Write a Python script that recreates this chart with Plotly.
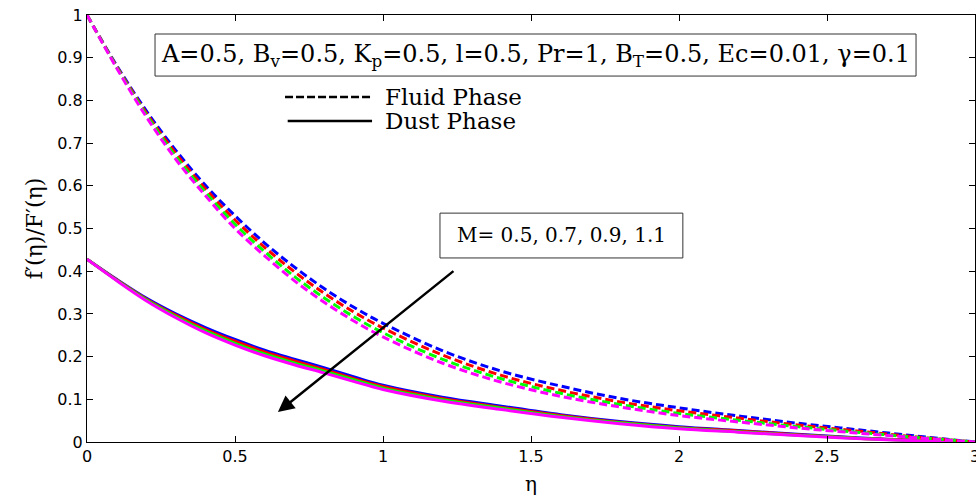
import plotly.graph_objects as go

# similarity coordinate
eta = [0.0, 0.1, 0.2, 0.3, 0.4, 0.5, 0.6, 0.7, 0.8, 0.9, 1.0,
       1.2, 1.4, 1.6, 1.8, 2.0, 2.2, 2.4, 2.6, 2.8, 3.0]

# magnetic parameter values, one colour each
m_values = [0.5, 0.7, 0.9, 1.1]
colors = ["#0000ff", "#ff0000", "#00ff00", "#ff00ff"]

# fluid phase velocity f'(eta)
fluid = {
    0.5: [1.000, 0.882, 0.776, 0.683, 0.601, 0.530, 0.466, 0.410, 0.360, 0.316, 0.278,
          0.214, 0.166, 0.131, 0.102, 0.080, 0.061, 0.044, 0.029, 0.014, 0.000],
    0.7: [1.000, 0.880, 0.771, 0.676, 0.593, 0.520, 0.456, 0.399, 0.349, 0.305, 0.267,
          0.204, 0.156, 0.121, 0.094, 0.073, 0.056, 0.040, 0.026, 0.012, 0.000],
    0.9: [1.000, 0.878, 0.767, 0.669, 0.585, 0.510, 0.446, 0.388, 0.338, 0.294, 0.256,
          0.194, 0.148, 0.114, 0.088, 0.067, 0.051, 0.036, 0.023, 0.011, 0.000],
    1.1: [1.000, 0.876, 0.762, 0.662, 0.577, 0.500, 0.436, 0.378, 0.328, 0.284, 0.246,
          0.185, 0.140, 0.107, 0.082, 0.062, 0.047, 0.033, 0.021, 0.010, 0.000],
}

# dust phase velocity F'(eta)
dust = {
    0.5: [0.428, 0.381, 0.337, 0.300, 0.268, 0.240, 0.215, 0.194, 0.174, 0.153, 0.133,
          0.105, 0.084, 0.064, 0.048, 0.036, 0.027, 0.018, 0.010, 0.004, 0.000],
    0.7: [0.428, 0.380, 0.335, 0.297, 0.264, 0.236, 0.211, 0.190, 0.170, 0.149, 0.130,
          0.102, 0.081, 0.062, 0.046, 0.034, 0.026, 0.017, 0.009, 0.004, 0.000],
    0.9: [0.428, 0.379, 0.333, 0.294, 0.260, 0.231, 0.206, 0.185, 0.166, 0.146, 0.126,
          0.099, 0.079, 0.060, 0.045, 0.033, 0.024, 0.016, 0.009, 0.003, 0.000],
    1.1: [0.428, 0.378, 0.331, 0.291, 0.256, 0.227, 0.202, 0.181, 0.162, 0.142, 0.123,
          0.096, 0.076, 0.058, 0.043, 0.031, 0.023, 0.015, 0.008, 0.003, 0.000],
}

x_ticks = [0, 0.5, 1, 1.5, 2, 2.5, 3]
x_tick_text = ["0", "0.5", "1", "1.5", "2", "2.5", "3"]
y_ticks = [0, 0.1, 0.2, 0.3, 0.4, 0.5, 0.6, 0.7, 0.8, 0.9, 1]
y_tick_text = ["0", "0.1", "0.2", "0.3", "0.4", "0.5", "0.6", "0.7", "0.8", "0.9", "1"]

params_text = ("A=0.5, B<sub>v</sub>=0.5, K<sub>p</sub>=0.5, l=0.5, Pr=1, "
               "B<sub>T</sub>=0.5, Ec=0.01, \u03b3=0.1")
m_text = "M= 0.5, 0.7, 0.9, 1.1"

serif = "DejaVu Serif, Liberation Serif, serif"
sans = "DejaVu Sans, Liberation Sans, sans-serif"

fig = go.Figure()

for m, c in zip(m_values, colors):
    fig.add_trace(go.Scatter(x=eta, y=dust[m], mode="lines", line=dict(color=c, width=3),
                             line_shape="spline", showlegend=False, hoverinfo="skip"))
for m, c in zip(m_values, colors):
    fig.add_trace(go.Scatter(x=eta, y=fluid[m], mode="lines",
                             line=dict(color=c, width=3, dash="8px,4px"),
                             line_shape="spline", showlegend=False, hoverinfo="skip"))

shapes = [
    # parameter box
    dict(type="rect", xref="paper", yref="paper", x0=0.0766, x1=0.9336, y0=0.857, y1=0.9555,
         line=dict(color="#333333", width=1)),
    # M box
    dict(type="rect", xref="paper", yref="paper", x0=0.3975, x1=0.671, y0=0.431, y1=0.536,
         line=dict(color="#333333", width=1)),
    # legend key lines
    dict(type="line", xref="paper", yref="paper", x0=0.223, x1=0.321, y0=0.808, y1=0.808,
         line=dict(color="black", width=2.5, dash="8px,3px")),
    dict(type="line", xref="paper", yref="paper", x0=0.226, x1=0.321, y0=0.752, y1=0.752,
         line=dict(color="black", width=2.5)),
]

annotations = [
    dict(text=params_text, xref="paper", yref="paper", x=0.505, y=0.906,
         showarrow=False, font=dict(family=serif, size=24, color="black"),
         xanchor="center", yanchor="middle"),
    dict(text=m_text, xref="paper", yref="paper", x=0.534, y=0.484,
         showarrow=False, font=dict(family=serif, size=20, color="black"),
         xanchor="center", yanchor="middle"),
    dict(text="Fluid Phase", xref="paper", yref="paper", x=0.333, y=0.808,
         showarrow=False, font=dict(family=serif, size=23, color="black"),
         xanchor="left", yanchor="middle"),
    dict(text="Dust Phase", xref="paper", yref="paper", x=0.333, y=0.752,
         showarrow=False, font=dict(family=serif, size=23, color="black"),
         xanchor="left", yanchor="middle"),
    # arrow in the direction of increasing M
    dict(x=0.645, y=0.070, ax=1.243, ay=0.403, xref="x", yref="y", axref="x", ayref="y",
         showarrow=True, arrowhead=2, arrowsize=1.3, arrowwidth=2.5, arrowcolor="black",
         text=""),
]

fig.update_layout(
    width=976, height=496,
    margin=dict(l=87, r=1, t=15, b=54),
    paper_bgcolor="white", plot_bgcolor="white",
    shapes=shapes, annotations=annotations,
    font=dict(family=sans, size=16, color="black"),
    xaxis=dict(range=[0, 3], tickvals=x_ticks, ticktext=x_tick_text,
               ticks="inside", ticklen=6, tickcolor="black", showline=True,
               linecolor="black", linewidth=1, mirror="ticks", showgrid=False,
               zeroline=False, automargin=False, ticklabeloverflow="allow",
               tickfont=dict(family=sans, size=16),
               title=dict(text="\u03b7", font=dict(family=serif, size=20), standoff=12)),
    yaxis=dict(range=[0, 1], tickvals=y_ticks, ticktext=y_tick_text,
               ticks="inside", ticklen=6, tickcolor="black", showline=True,
               linecolor="black", linewidth=1, mirror="ticks", showgrid=False,
               zeroline=False, automargin=False,
               tickfont=dict(family=sans, size=16),
               title=dict(text="f\u2032(\u03b7)/F\u2032(\u03b7)", font=dict(family=serif, size=22),
                          standoff=8)),
)

fig.write_html("out.html")
